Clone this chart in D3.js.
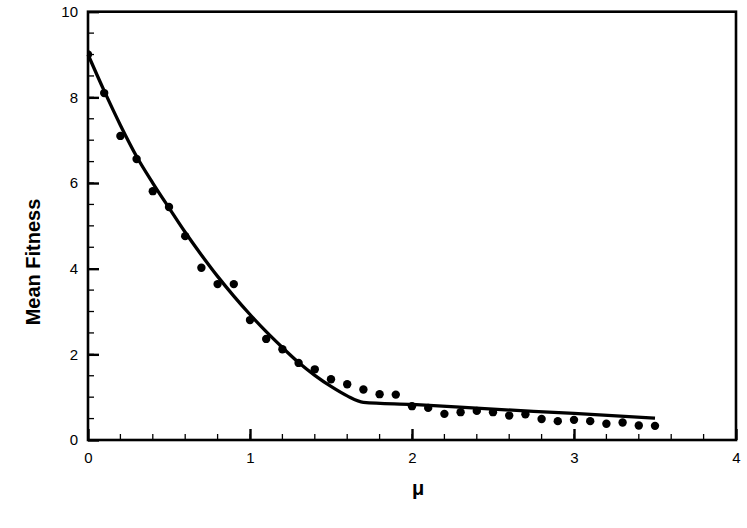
<!DOCTYPE html>
<html><head><meta charset="utf-8">
<script src="https://cdn.jsdelivr.net/npm/d3@7"></script>
<style>body{margin:0;background:#fff}svg{display:block}</style>
</head><body><svg id="c" width="747" height="528"></svg>
<script>
const dotX = [0,0.1,0.2,0.3,0.4,0.5,0.6,0.7,0.8,0.9,1.0,1.1,1.2,1.3,1.4,1.5,1.6,1.7,1.8,1.9,2.0,2.1,2.2,2.3,2.4,2.5,2.6,2.7,2.8,2.9,3.0,3.1,3.2,3.3,3.4,3.5];
const dotY = [9.0,8.10,7.10,6.56,5.81,5.44,4.76,4.02,3.64,3.64,2.80,2.36,2.12,1.80,1.65,1.42,1.30,1.18,1.07,1.06,0.79,0.75,0.61,0.65,0.68,0.65,0.57,0.60,0.49,0.44,0.47,0.44,0.38,0.41,0.34,0.33];
const lineX = [0,0.1,0.2,0.3,0.4,0.5,0.6,0.7,0.8,0.9,1.0,1.1,1.2,1.3,1.4,1.5,1.6,1.7,2.0,2.5,3.0,3.5];
const lineY = [9.0,8.15,7.35,6.62,6.0,5.42,4.85,4.32,3.82,3.36,2.93,2.53,2.16,1.81,1.51,1.25,1.03,0.88,0.83,0.72,0.62,0.51];
const xMajor = [0,1,2,3,4];
const yMajor = [0,2,4,6,8,10];

const svg = d3.select("#c");
const L=88, R=736, T=11.7, B=440;
const x = d3.scaleLinear().domain([0,4]).range([L,R]);
const y = d3.scaleLinear().domain([0,10]).range([B,T]);
const font = "'Liberation Sans', Arial, sans-serif";

svg.append("defs").append("clipPath").attr("id","clip").append("rect")
 .attr("x",L).attr("y",T).attr("width",R-L).attr("height",B-T);

const g = svg.append("g");
const xMinor = d3.range(0,4.0001,0.2);
const yMinor = d3.range(0,10.0001,0.5);
g.selectAll(".xm").data(xMinor).enter().append("line")
 .attr("x1",d=>x(d)).attr("x2",d=>x(d)).attr("y1",B).attr("y2",B-6)
 .attr("stroke","#000").attr("stroke-width",1.3);
g.selectAll(".ym").data(yMinor).enter().append("line")
 .attr("y1",d=>y(d)).attr("y2",d=>y(d)).attr("x1",L).attr("x2",L+6)
 .attr("stroke","#000").attr("stroke-width",1.3);
const xAxis = d3.axisBottom(x).tickValues(xMajor).tickSizeInner(-11).tickSizeOuter(0).tickPadding(12).tickFormat(d3.format("d"));
const yAxis = d3.axisLeft(y).tickValues(yMajor).tickSizeInner(-11).tickSizeOuter(0).tickPadding(10).tickFormat(d3.format("d"));
const gx = svg.append("g").attr("transform",`translate(0,${B})`).call(xAxis);
const gy = svg.append("g").attr("transform",`translate(${L},0)`).call(yAxis);
[gx,gy].forEach(a=>{
  a.select(".domain").remove();
  a.selectAll(".tick line").attr("stroke","#000").attr("stroke-width",2.4);
  a.selectAll(".tick text").attr("fill","#000").style("font-family",font).style("font-size","15px");
});
svg.append("rect").attr("x",L).attr("y",T).attr("width",R-L).attr("height",B-T)
 .attr("fill","none").attr("stroke","#000").attr("stroke-width",2.6);

const pts = lineX.map((v,i)=>[v,lineY[i]]);
svg.append("path").datum(pts)
 .attr("d",d3.line().x(d=>x(d[0])).y(d=>y(d[1])).curve(d3.curveMonotoneX))
 .attr("fill","none").attr("stroke","#000").attr("stroke-width",3.3).attr("stroke-linejoin","round");
svg.append("g").attr("clip-path","url(#clip)")
 .selectAll(".dot").data(dotX.map((v,i)=>[v,dotY[i]])).enter().append("circle")
 .attr("cx",d=>x(d[0])).attr("cy",d=>y(d[1])).attr("r",4.2).attr("fill","#000");

svg.append("text").attr("transform","translate(40,262) rotate(-90)").attr("text-anchor","middle")
 .style("font-family",font).style("font-size","20px").style("font-weight","bold").text("Mean Fitness");
svg.append("text").attr("x",418).attr("y",495).attr("text-anchor","middle")
 .style("font-family",font).style("font-size","20px").style("font-weight","bold").text("μ");
</script></body></html>
